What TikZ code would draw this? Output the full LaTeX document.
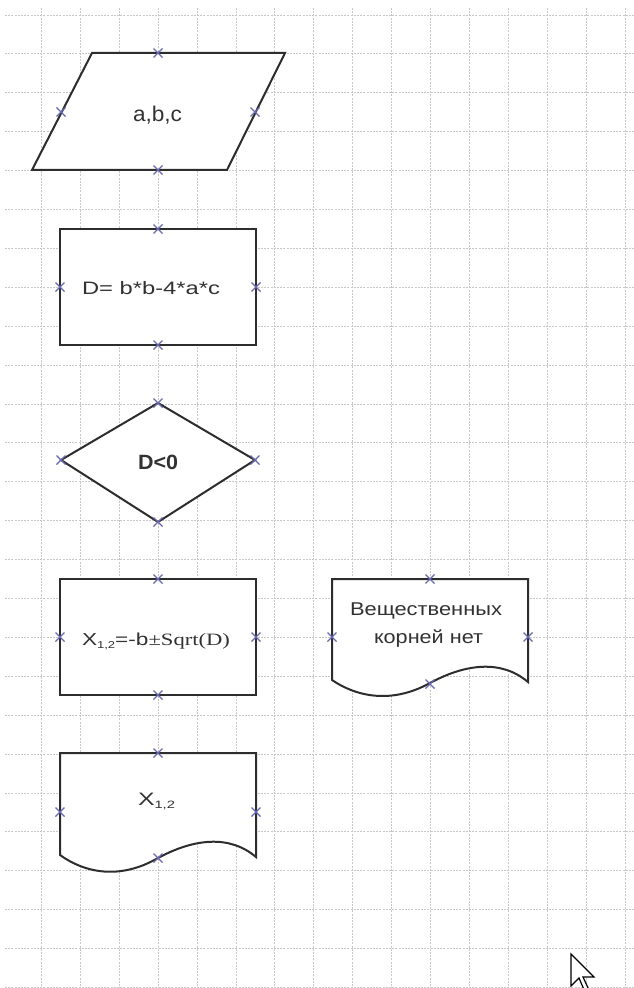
\documentclass[tikz,border=0pt]{standalone}
\usepackage{fontspec}
\setmainfont{Liberation Sans}
\newfontfamily\seriffam{Liberation Serif}
\definecolor{gridc}{RGB}{200,200,200}
\definecolor{shapec}{RGB}{45,45,45}
\definecolor{markc}{RGB}{105,105,175}
\definecolor{textc}{RGB}{50,50,50}
\newsavebox\fitbox
\newcommand\fitw[2]{\sbox\fitbox{#2}\pgfmathsetmacro\fitratio{(#1)/(\wd\fitbox)}\scalebox{\fitratio}[1]{\usebox\fitbox}}
\tikzset{
  gridline/.style={gridc, line width=0.7pt, dash pattern=on 1.5pt off 0.9pt},
  shapeline/.style={draw=shapec, fill=white, line width=1.5pt, line join=miter},
  txt/.style={inner sep=0pt, outer sep=0pt, text=textc, anchor=base west},
  xmark/.pic={\draw[markc, line width=0.9pt] (-4.5,-4.5)--(4.5,4.5) (-4.5,4.5)--(4.5,-4.5);}
}
\begin{document}
\begin{tikzpicture}[x=0.75pt,y=-0.75pt]
\useasboundingbox[fill=white] (0,0) rectangle (634,988);
% grid
\foreach \i in {1,...,16} \draw[gridline] ({2.6+38.9*\i},8) -- ({2.6+38.9*\i},988);
\foreach \j in {0,...,25} \draw[gridline] (5,{15+38.9*\j}) -- (634,{15+38.9*\j});
% shapes
\draw[shapeline] (92,53) -- (285,53) -- (227,170) -- (32,170) -- cycle;
\draw[shapeline] (60,229) rectangle (256,345);
\draw[shapeline] (158,403) -- (255,460) -- (158,522) -- (61,460) -- cycle;
\draw[shapeline] (60,579) rectangle (256,695);
\draw[shapeline] (332,579) -- (528,579) -- (528,682) .. controls (502,660) and (467,663) .. (430,683) .. controls (392,704) and (357,697) .. (332,680) -- cycle;
\draw[shapeline] (60,753) -- (256,753) -- (256,857) .. controls (230,835) and (195,838) .. (158,858) .. controls (120,880) and (85,873) .. (60,855) -- cycle;
% texts
\node[txt] (abc) at (133,121.7) {\fontsize{16}{19}\selectfont\fitw{36.75pt}{a,b,c}};
\node[txt] (disc) at (82,294) {\fontsize{13.5}{16}\selectfont\fitw{103.5pt}{D= b*b-4*a*c}};
\node[txt] (cond) at (138,469) {\fontsize{15.5}{18}\selectfont\bfseries\fitw{30pt}{D<0}};
\node[txt] (roots) at (82,645.7) {\fontsize{13}{15}\selectfont\fitw{111pt}{X\raisebox{-2.2pt}{\fontsize{7.5}{8}\selectfont 1,2}=-b{\seriffam ±Sqrt(D)}}};
\node[txt] (none1) at (350,615) {\fontsize{13.9}{17}\selectfont\fitw{114pt}{Вещественных}};
\node[txt] (none2) at (374,643) {\fontsize{13.9}{17}\selectfont\fitw{81.75pt}{корней нет}};
\node[txt] (out) at (138,805) {\fontsize{13.5}{16}\selectfont\fitw{27.75pt}{X\raisebox{-2.5pt}{\fontsize{8}{9}\selectfont 1,2}}};
% connection markers
\foreach \p in {(158,53),(158,170),(61,112),(255,112),
                (158,229),(158,345),(60,287),(256,287),
                (158,403),(158,522),(61,460),(255,460),
                (158,579),(158,695),(60,637),(256,637),
                (430,579),(430,684),(332,637),(528,637),
                (158,753),(158,858),(60,812),(256,812)}
  \pic at \p {xmark};
% mouse cursor
\begin{scope}
\clip (0,0) rectangle (634,988);
\draw[black, fill=white, line width=0.9pt, line join=miter] (571,954) -- (571,986) -- (579,978) -- (585,992) -- (589,990) -- (583,977) -- (594,977) -- cycle;
\end{scope}
\end{tikzpicture}
\end{document}
